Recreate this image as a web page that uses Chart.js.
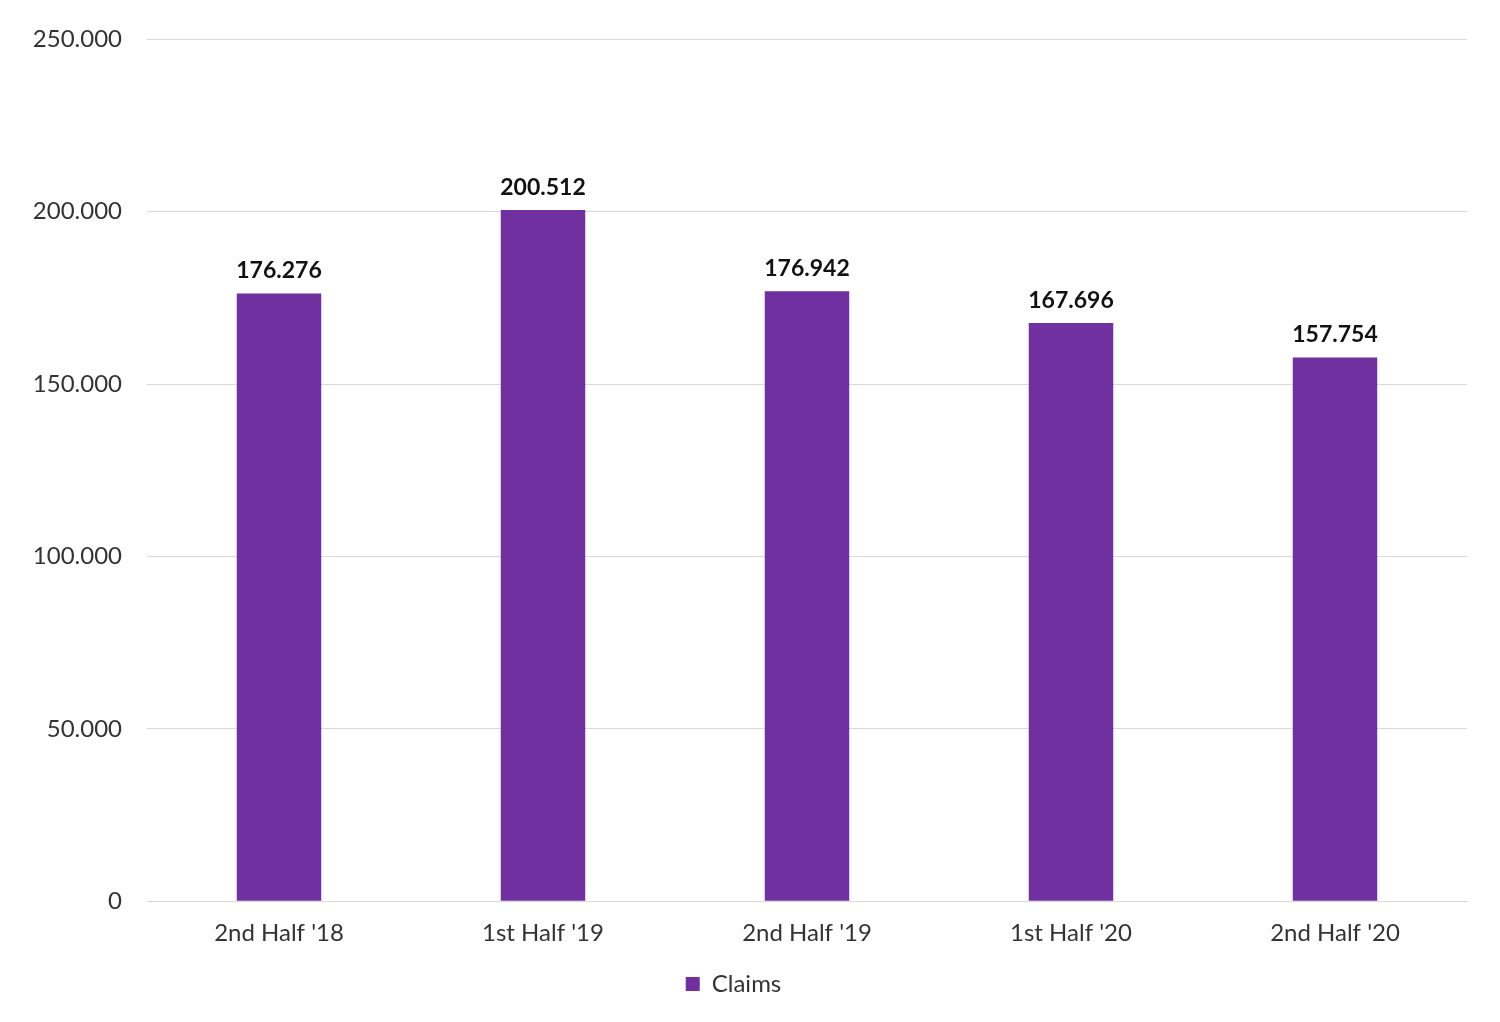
<!DOCTYPE html>
<html>
<head>
<meta charset="utf-8">
<script src="https://cdn.jsdelivr.net/npm/chart.js@4"></script>
<style>
  html, body { margin: 0; padding: 0; background: #fff; }
  #wrap { width: 1500px; height: 1022px; }
</style>
</head>
<body>
<div id="wrap"><canvas id="myChart"></canvas></div>
<script>
const categories = ["2nd Half '18", "1st Half '19", "2nd Half '19", "1st Half '20", "2nd Half '20"];
const claims = [176276, 200512, 176942, 167696, 157754];
const yTicks = [0, 50000, 100000, 150000, 200000, 250000];

// dot as thousands separator
function fmt(v) {
  return String(v).replace(/\B(?=(\d{3})+(?!\d))/g, '.');
}

// value labels above each bar
const barLabels = {
  id: 'barLabels',
  afterDatasetsDraw(chart) {
    const ctx = chart.ctx;
    const meta = chart.getDatasetMeta(0);
    ctx.save();
    ctx.font = 'bold 23px Lato';
    ctx.fillStyle = '#111';
    ctx.textAlign = 'center';
    ctx.textBaseline = 'bottom';
    meta.data.forEach((bar, i) => {
      ctx.fillText(fmt(claims[i]), bar.x, bar.y - 11);
    });
    ctx.restore();
  }
};

const ctx = document.getElementById('myChart').getContext('2d');
const myChart = new Chart(ctx, {
  type: 'bar',
  data: {
    labels: categories,
    datasets: [{
      label: 'Claims',
      data: claims,
      backgroundColor: '#7030A0',
      barPercentage: 0.32,
      categoryPercentage: 1
    }]
  },
  options: {
    responsive: true,
    maintainAspectRatio: false,
    animation: false,
    layout: { padding: { top: 30, right: 33, left: 0, bottom: 16 } },
    plugins: {
      legend: {
        position: 'bottom',
        labels: {
          font: { family: 'Lato', size: 24 },
          color: '#333',
          boxWidth: 14,
          boxHeight: 14,
          padding: 14
        }
      },
      tooltip: { enabled: false }
    },
    scales: {
      x: {
        grid: { display: false },
        border: { color: '#d9d9d9' },
        ticks: { font: { family: 'Lato', size: 24 }, color: '#333', padding: 10 }
      },
      y: {
        min: 0,
        max: 250000,
        afterBuildTicks(scale) { scale.ticks = yTicks.map(v => ({ value: v })); },
        afterFit(scale) { scale.width = 147; },
        grid: { color: '#d9d9d9', drawTicks: false },
        border: { display: false },
        ticks: {
          font: { family: 'Lato', size: 24 },
          color: '#333',
          padding: 25,
          callback: v => fmt(v)
        }
      }
    }
  },
  plugins: [barLabels]
});
</script>
</body>
</html>
